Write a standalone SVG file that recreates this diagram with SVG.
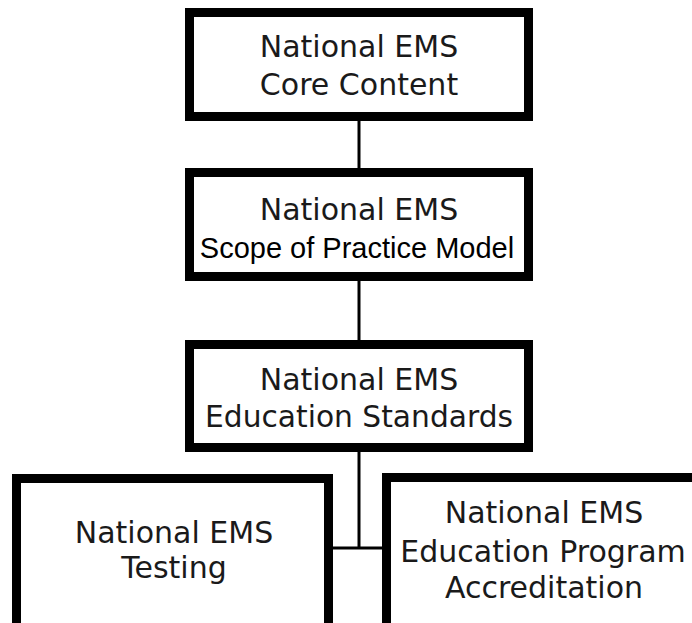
<svg xmlns="http://www.w3.org/2000/svg" width="692" height="623" viewBox="0 0 692 623">
<style>
.box{fill:#fff;stroke:#000;stroke-width:9}
.t{font-family:"DejaVu Sans",Verdana,sans-serif;font-size:30px;fill:#1a1a1a;text-anchor:middle}
.a{font-family:"Liberation Sans",Arial,sans-serif;font-size:29px;fill:#000;text-anchor:middle}
.c{stroke:#000;stroke-width:3;fill:none}
</style>
<rect width="692" height="623" fill="#fff"/>
<g id="connectors">
<line class="c" x1="359" y1="118" x2="359" y2="170"/>
<line class="c" x1="359" y1="278" x2="359" y2="342"/>
<line class="c" x1="359" y1="449" x2="359" y2="549"/>
<line class="c" x1="330" y1="548" x2="385" y2="548"/>
</g>
<g id="core">
<rect class="box" x="189.5" y="12.5" width="339" height="104"/>
<text class="t" x="359" y="57">National EMS</text>
<text class="t" x="359" y="95">Core Content</text>
</g>
<g id="scope">
<rect class="box" x="189.5" y="172.5" width="339" height="104"/>
<text class="t" x="359" y="220">National EMS</text>
<text class="a" x="357" y="258">Scope of Practice Model</text>
</g>
<g id="standards">
<rect class="box" x="189.5" y="344.5" width="339" height="103"/>
<text class="t" x="359" y="390">National EMS</text>
<text class="t" x="359" y="427" textLength="308" lengthAdjust="spacingAndGlyphs">Education Standards</text>
</g>
<g id="testing">
<rect class="box" x="16.5" y="478.5" width="312" height="152"/>
<text class="t" x="174" y="543">National EMS</text>
<text class="t" x="174" y="578">Testing</text>
</g>
<g id="accreditation">
<rect class="box" x="386.5" y="477.5" width="330" height="152"/>
<text class="t" x="544" y="523">National EMS</text>
<text class="t" x="543" y="562">Education Program</text>
<text class="t" x="544" y="598">Accreditation</text>
</g>
</svg>
